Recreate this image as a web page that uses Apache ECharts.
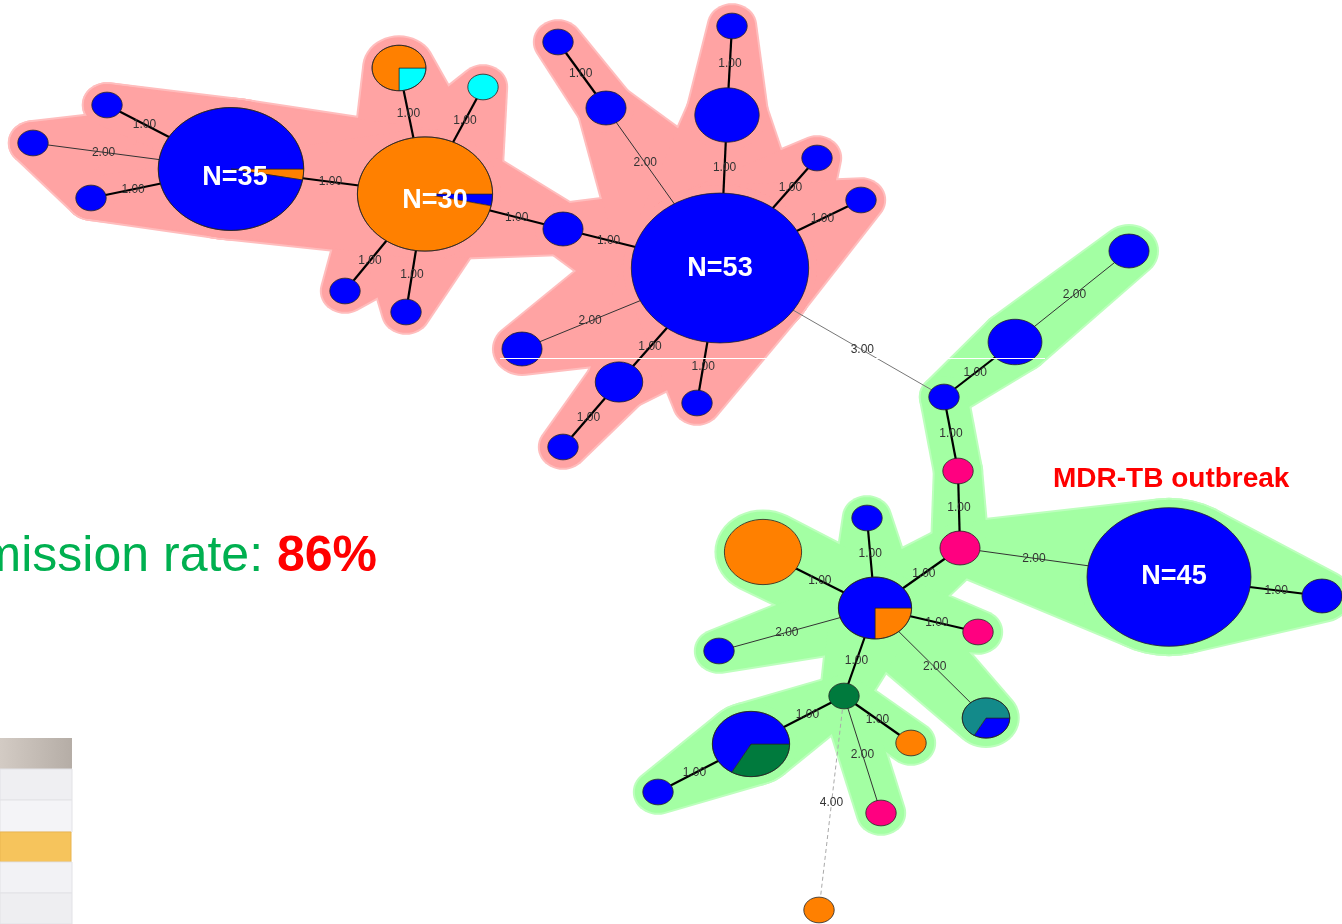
<!DOCTYPE html>
<html><head><meta charset="utf-8">
<script src="https://cdn.jsdelivr.net/npm/echarts@6/dist/echarts.min.js"></script>
<style>html,body{margin:0;padding:0;background:#fff;overflow:hidden}#c{width:1342px;height:924px}</style>
</head><body><div id="c"></div>
<script>
// ---------------- DATA ----------------
const typeNames = ['blue type','orange type','cyan type','magenta type','green type','teal type'];
const typeColors = ['#0000FF','#FF8000','#00FFFF','#FF0080','#007A3D','#138A8A'];

const nodeIds = ['A','A1','A2','A3','B','B1','B2','B3','B4','C','D','D1','D1a','D2','D2a','D3','D4','D5','D6','D6a','D7',
                 'E','E1','E2','E3','F','G','G1','H','H1','H2','H3','H4','H5','I','I1','I1a','I2','I3','I4'];
const nodeX = [231,107,33,91,425,399,483,345,406,563,720,606,558,727,732,817,861,522,619,563,697,
               944,1015,1129,958,960,1169,1322,875,867,763,719,978,986,844,751,658,911,881,819];
const nodeY = [169,105,143,198,194,68,87,291,312,229,268,108,42,115,26,158,200,349,382,447,403,
               397,342,251,471,548,577,596,608,518,552,651,632,718,696,744,792,743,813,910];
// composition of each node: [typeIndex, count] in drawing order (clockwise from 3 o'clock)
const nodeSlices = [
  [[1,1],[0,34]], [[0,1]], [[0,1]], [[0,1]],
  [[0,1],[1,29]], [[2,1],[1,3]], [[2,1]], [[0,1]], [[0,1]],
  [[0,2]],
  [[0,53]], [[0,2]], [[0,1]], [[0,6]], [[0,1]], [[0,1]], [[0,1]], [[0,2]], [[0,3]], [[0,1]], [[0,1]],
  [[0,1]], [[0,4]], [[0,2]], [[3,1]], [[3,2]], [[0,45]], [[0,2]],
  [[1,2],[0,6]], [[0,1]], [[1,9]], [[0,1]], [[3,1]], [[0,1],[5,2]],
  [[4,1]], [[4,3],[0,6]], [[0,1]], [[1,1]], [[3,1]], [[1,1]]
];
// cluster membership: 0 = pink cluster, 1 = green (MDR-TB) cluster, -1 = none
const nodeCluster = [0,0,0,0,0,0,0,0,0,0,0,0,0,0,0,0,0,0,0,0,0,
                     1,1,1,1,1,1,1,1,1,1,1,1,1,1,1,1,1,1,-1];

const edgeFrom = ['A','A','A','A','B','B','B','B','B','C','D','D1','D','D2','D','D','D','D','D6','D','D',
                  'E','E1','E','E3','F','G','F','H','H','H','H','H','H','I','I1','I','I','I'];
const edgeTo   = ['A1','A2','A3','B','B1','B2','B3','B4','C','D','D1','D1a','D2','D2a','D3','D4','D5','D6','D6a','D7','E',
                  'E1','E2','E3','F','G','G1','H','H1','H2','H3','H4','H5','I','I1','I1a','I2','I3','I4'];
const edgeDist = [1,2,1,1,1,1,1,1,1,1,2,1,1,1,1,1,2,1,1,1,3,
                  1,2,1,1,2,1,1,1,1,2,1,2,1,1,1,1,2,4];
// extra pairs used only to shape the shaded cluster hulls
const extraHullFrom = ['A1','A3','A2'];
const extraHullTo   = ['B','B','A3'];

const clusterFill = ['#FFA3A3','#A3FFA3'];
const clusterRim  = ['#FFBDBD','#BDFFBD'];

// ---------------- HELPERS ----------------
const idx = id => nodeIds.indexOf(id);
const total = i => nodeSlices[i].reduce((s, d) => s + d[1], 0);
const ASPECT = 0.845;
const nodeRx = i => 3.5 + 11.7 * Math.sqrt(total(i));
const nodeRy = i => nodeRx(i) * ASPECT;

function ellipsePts(cx, cy, rx, ry, n) {
  const p = [];
  for (let k = 0; k < n; k++) { const t = k / n * Math.PI * 2; p.push([cx + rx * Math.cos(t), cy + ry * Math.sin(t)]); }
  return p;
}
function convexHull(pts) {
  pts = pts.slice().sort((a, b) => a[0] - b[0] || a[1] - b[1]);
  const cross = (o, a, b) => (a[0]-o[0])*(b[1]-o[1]) - (a[1]-o[1])*(b[0]-o[0]);
  const lower = [], upper = [];
  for (const p of pts) { while (lower.length >= 2 && cross(lower[lower.length-2], lower[lower.length-1], p) <= 0) lower.pop(); lower.push(p); }
  for (let i = pts.length - 1; i >= 0; i--) { const p = pts[i]; while (upper.length >= 2 && cross(upper[upper.length-2], upper[upper.length-1], p) <= 0) upper.pop(); upper.push(p); }
  upper.pop(); lower.pop();
  return lower.concat(upper);
}
function boundaryDist(rx, ry, ux, uy) { return 1 / Math.sqrt((ux/rx)*(ux/rx) + (uy/ry)*(uy/ry)); }

// hull pairs: edges inside a cluster + extras
const hullA = [], hullB = [];
edgeFrom.forEach((f, k) => {
  const a = idx(f), b = idx(edgeTo[k]);
  if (nodeCluster[a] >= 0 && nodeCluster[a] === nodeCluster[b]) { hullA.push(a); hullB.push(b); }
});
extraHullFrom.forEach((f, k) => { hullA.push(idx(f)); hullB.push(idx(extraHullTo[k])); });
const hullData = hullA.map((a, k) => [(nodeX[a] + nodeX[hullB[k]]) / 2, (nodeY[a] + nodeY[hullB[k]]) / 2]);

function hullSeries(pad, colors, z) {
  return {
    type: 'custom', coordinateSystem: 'cartesian2d', silent: true, z: z,
    data: hullData, encode: { x: 0, y: 1 },
    renderItem: function (params, api) {
      const k = params.dataIndex, a = hullA[k], b = hullB[k];
      const pa = api.coord([nodeX[a], nodeY[a]]), pb = api.coord([nodeX[b], nodeY[b]]);
      const pts = ellipsePts(pa[0], pa[1], nodeRx(a) + pad, nodeRy(a) + pad, 48)
        .concat(ellipsePts(pb[0], pb[1], nodeRx(b) + pad, nodeRy(b) + pad, 48));
      return { type: 'polygon', shape: { points: convexHull(pts) }, style: { fill: colors[nodeCluster[a]] } };
    }
  };
}

const edgeData = edgeFrom.map((f, k) => { const a = idx(f), b = idx(edgeTo[k]); return [(nodeX[a]+nodeX[b])/2, (nodeY[a]+nodeY[b])/2]; });
const edgeStyle = {
  1: { stroke: '#000', lineWidth: 2.2 },
  2: { stroke: '#333', lineWidth: 1 },
  3: { stroke: '#777', lineWidth: 1 },
  4: { stroke: '#aaa', lineWidth: 1, lineDash: [4, 3] }
};

const bigLabelOffset = { A: [4, 9], B: [10, 7], D: [0, 1], G: [5, 0] };

const chart = echarts.init(document.getElementById('c'), null, { renderer: 'canvas' });
chart.setOption({
  animation: false,
  backgroundColor: '#fff',
  grid: { left: 0, right: 0, top: 0, bottom: 0 },
  xAxis: { type: 'value', min: 0, max: 1342, show: false },
  yAxis: { type: 'value', min: 0, max: 924, inverse: true, show: false },
  series: [
    hullSeries(10, clusterRim, 1),
    hullSeries(8, clusterFill, 2),
    {
      type: 'custom', coordinateSystem: 'cartesian2d', silent: true, z: 3,
      data: edgeData, encode: { x: 0, y: 1 },
      renderItem: function (params, api) {
        const k = params.dataIndex, a = idx(edgeFrom[k]), b = idx(edgeTo[k]);
        const pa = api.coord([nodeX[a], nodeY[a]]), pb = api.coord([nodeX[b], nodeY[b]]);
        const dx = pb[0] - pa[0], dy = pb[1] - pa[1], L = Math.hypot(dx, dy), ux = dx / L, uy = dy / L;
        const ta = boundaryDist(nodeRx(a), nodeRy(a), ux, uy), tb = boundaryDist(nodeRx(b), nodeRy(b), ux, uy);
        const m = (ta + (L - tb)) / 2;
        const st = Object.assign({}, edgeStyle[edgeDist[k]]);
        return {
          type: 'group', children: [
            { type: 'line', shape: { x1: pa[0], y1: pa[1], x2: pb[0], y2: pb[1] }, style: st },
            { type: 'text', x: pa[0] + ux * m, y: pa[1] + uy * m, z2: 10,
              style: { text: edgeDist[k].toFixed(2), fill: '#333', font: '12px "Liberation Sans", Arial, sans-serif', align: 'center', verticalAlign: 'middle' } }
          ]
        };
      }
    },
    {
      type: 'custom', coordinateSystem: 'cartesian2d', silent: true, z: 4,
      data: nodeIds.map((id, i) => [nodeX[i], nodeY[i]]), encode: { x: 0, y: 1 },
      renderItem: function (params, api) {
        const i = params.dataIndex;
        const c = api.coord([nodeX[i], nodeY[i]]);
        const rx = nodeRx(i), ry = nodeRy(i), N = total(i), sl = nodeSlices[i];
        const children = [];
        if (sl.length === 1) {
          children.push({ type: 'ellipse', shape: { cx: c[0], cy: c[1], rx: rx, ry: ry }, style: { fill: typeColors[sl[0][0]], stroke: '#222', lineWidth: 0.8 } });
        } else {
          let a0 = 0;
          sl.forEach(s => {
            const a1 = a0 + s[1] / N * Math.PI * 2;
            const n = Math.max(3, Math.ceil((a1 - a0) / (Math.PI * 2) * 120));
            const pts = [[c[0], c[1]]];
            for (let k = 0; k <= n; k++) { const t = a0 + (a1 - a0) * k / n; pts.push([c[0] + rx * Math.cos(t), c[1] + ry * Math.sin(t)]); }
            children.push({ type: 'polygon', shape: { points: pts }, style: { fill: typeColors[s[0]], stroke: '#222', lineWidth: 0.6 } });
            a0 = a1;
          });
          children.push({ type: 'ellipse', shape: { cx: c[0], cy: c[1], rx: rx, ry: ry }, style: { fill: null, stroke: '#222', lineWidth: 0.8 } });
        }
        if (N >= 20) {
          const off = bigLabelOffset[nodeIds[i]] || [0, 0];
          children.push({ type: 'text', x: c[0] + off[0], y: c[1] + off[1], z2: 20,
            style: { text: 'N=' + N, fill: '#fff', font: 'bold 27px "Liberation Sans", Arial, sans-serif', align: 'center', verticalAlign: 'middle' } });
        }
        return { type: 'group', children: children };
      }
    }
  ],
  graphic: { elements: [
    // artefact line crossing the shaded regions
    { type: 'line', z: 100, silent: true, shape: { x1: 500, y1: 358.5, x2: 1045, y2: 358.5 }, style: { stroke: '#ffffff', lineWidth: 1 } },
    { type: 'text', z: 100, x: 377, y: 557, style: {
        text: '{g|Recent transmission rate: }{r|86%}', align: 'right', verticalAlign: 'middle',
        rich: { g: { fill: '#00B050', font: '50px "Liberation Sans", Arial, sans-serif' },
                r: { fill: '#FF0000', font: 'bold 50px "Liberation Sans", Arial, sans-serif' } } } },
    { type: 'text', z: 100, x: 1053, y: 479, style: { text: 'MDR-TB outbreak', fill: '#FF0000', font: 'bold 28px "Liberation Sans", Arial, sans-serif', align: 'left', verticalAlign: 'middle' } },
    // partial table at bottom-left
    { type: 'rect', z: 100, shape: { x: 0, y: 738, width: 72, height: 31 }, style: { fill: new echarts.graphic.LinearGradient(0, 0, 1, 0, [{ offset: 0, color: '#d3cbc4' }, { offset: 1, color: '#b5ada6' }]) } },
    { type: 'rect', z: 100, shape: { x: 0, y: 769, width: 72, height: 31 }, style: { fill: '#efeff2', stroke: '#e2e2e6', lineWidth: 1 } },
    { type: 'rect', z: 100, shape: { x: 0, y: 800, width: 72, height: 32 }, style: { fill: '#f4f4f7', stroke: '#e2e2e6', lineWidth: 1 } },
    { type: 'rect', z: 100, shape: { x: 0, y: 832, width: 71, height: 30 }, style: { fill: '#f6c45c', stroke: '#eab550', lineWidth: 1 } },
    { type: 'rect', z: 100, shape: { x: 0, y: 862, width: 72, height: 31 }, style: { fill: '#f2f2f5', stroke: '#e2e2e6', lineWidth: 1 } },
    { type: 'rect', z: 100, shape: { x: 0, y: 893, width: 72, height: 31 }, style: { fill: '#eeeef1', stroke: '#e2e2e6', lineWidth: 1 } }
  ] }
});
</script>
</body></html>
